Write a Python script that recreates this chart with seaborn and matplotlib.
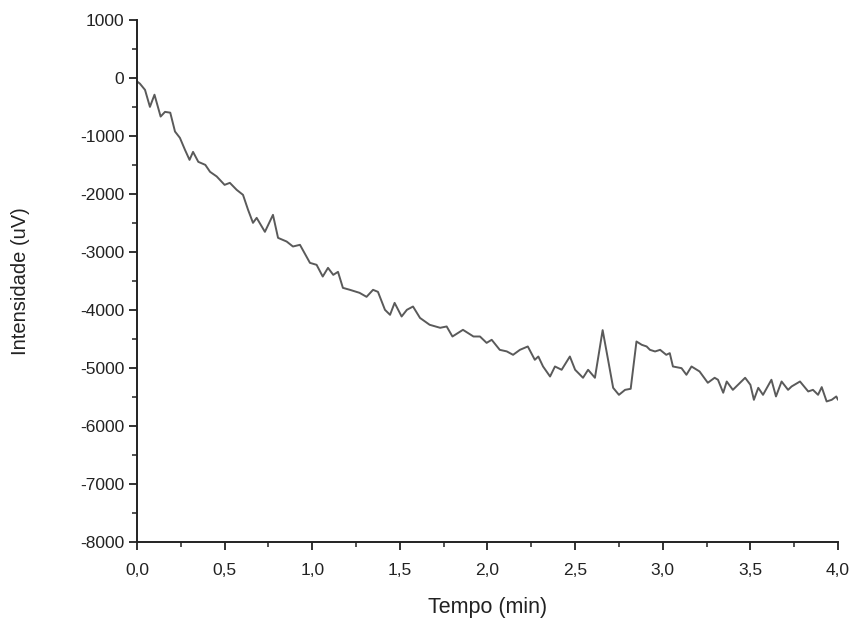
import matplotlib
matplotlib.use("Agg")
import matplotlib.pyplot as plt
import numpy as np
import pandas as pd
import seaborn as sns
from matplotlib.ticker import MultipleLocator, FuncFormatter

sns.set_theme(style="ticks")
plt.rcParams["font.family"] = ["Liberation Sans", "DejaVu Sans"]

tempo = [0.0, 0.017, 0.046, 0.074, 0.10, 0.135, 0.16, 0.19, 0.217, 0.245, 0.274, 0.30, 0.32, 0.35,
         0.39, 0.417, 0.455, 0.50, 0.53, 0.569, 0.605, 0.634, 0.662, 0.683, 0.73, 0.776, 0.805,
         0.854, 0.89, 0.93, 0.987, 1.025, 1.06, 1.09, 1.12, 1.147, 1.175, 1.215, 1.27, 1.31, 1.347,
         1.375, 1.415, 1.444, 1.47, 1.51, 1.54, 1.575, 1.615, 1.67, 1.73, 1.767, 1.80, 1.86, 1.92,
         1.957, 1.995, 2.024, 2.07, 2.11, 2.146, 2.185, 2.23, 2.27, 2.29, 2.317, 2.357, 2.385,
         2.423, 2.47, 2.50, 2.545, 2.574, 2.613, 2.657, 2.688, 2.717, 2.75, 2.785, 2.817, 2.85,
         2.88, 2.908, 2.927, 2.956, 2.985, 3.02, 3.04, 3.058, 3.107, 3.135, 3.164, 3.21, 3.257,
         3.296, 3.315, 3.345, 3.365, 3.40, 3.47, 3.50, 3.52, 3.545, 3.572, 3.62, 3.646, 3.678,
         3.715, 3.735, 3.783, 3.83, 3.857, 3.886, 3.907, 3.935, 3.964, 3.99, 4.0]
intensidade = [-60, -100, -207, -500, -290, -667, -586, -600, -925, -1034, -1241, -1414, -1276, -1448,
               -1500, -1620, -1700, -1845, -1810, -1931, -2017, -2276, -2500, -2414, -2655, -2362, -2759,
               -2822, -2908, -2879, -3190, -3224, -3426, -3276, -3397, -3345, -3621, -3655, -3707, -3776, -3655,
               -3690, -4000, -4086, -3880, -4115, -4000, -3943, -4140, -4258, -4310, -4287, -4460, -4345, -4460,
               -4460, -4570, -4517, -4690, -4717, -4776, -4690, -4632, -4862, -4805, -4977, -5150, -4977,
               -5034, -4805, -5034, -5172, -5034, -5172, -4350, -4862, -5345, -5466, -5380, -5362, -4546,
               -4603, -4632, -4690, -4718, -4690, -4776, -4747, -4977, -5006, -5120, -4977, -5063, -5258,
               -5172, -5206, -5430, -5236, -5380, -5172, -5293, -5552, -5345, -5466, -5206, -5494, -5236,
               -5380, -5322, -5236, -5408, -5380, -5466, -5333, -5580, -5552, -5494, -5552]

df = pd.DataFrame({"Tempo": tempo, "Intensidade": intensidade})

fig = plt.figure(figsize=(8.56, 6.22), dpi=100)
ax = fig.add_axes([0.160, 0.129, 0.819, 0.839])
sns.lineplot(data=df, x="Tempo", y="Intensidade", ax=ax, color="#5a5a5a", lw=1.4)

ax.set_xlim(0, 4.0)
ax.set_ylim(-8000, 1000)
ax.xaxis.set_major_locator(MultipleLocator(0.5))
ax.xaxis.set_minor_locator(MultipleLocator(0.25))
ax.yaxis.set_major_locator(MultipleLocator(1000))
ax.yaxis.set_minor_locator(MultipleLocator(500))
ax.xaxis.set_major_formatter(FuncFormatter(lambda v, p: f"{v:.1f}".replace(".", ",")))
ax.yaxis.set_major_formatter(FuncFormatter(lambda v, p: f"{v:.0f}"))
ax.tick_params(axis="both", which="major", direction="out", length=6, width=1.3,
               labelsize=12.5, colors="#222222")
ax.tick_params(axis="both", which="minor", direction="out", length=3.5, width=1.1, colors="#222222")
ax.tick_params(axis="x", which="major", pad=9)
ax.tick_params(axis="y", which="major", pad=3)
ax.set_xlabel("Tempo (min)", fontsize=15.5, color="#222222", labelpad=14)
ax.set_ylabel("Intensidade (uV)", fontsize=14.5, color="#222222", labelpad=36)
ax.spines[["top", "right"]].set_visible(False)
for s in ["left", "bottom"]:
    ax.spines[s].set_linewidth(1.4)
    ax.spines[s].set_color("#222222")

fig.savefig("out.png", dpi=100)
